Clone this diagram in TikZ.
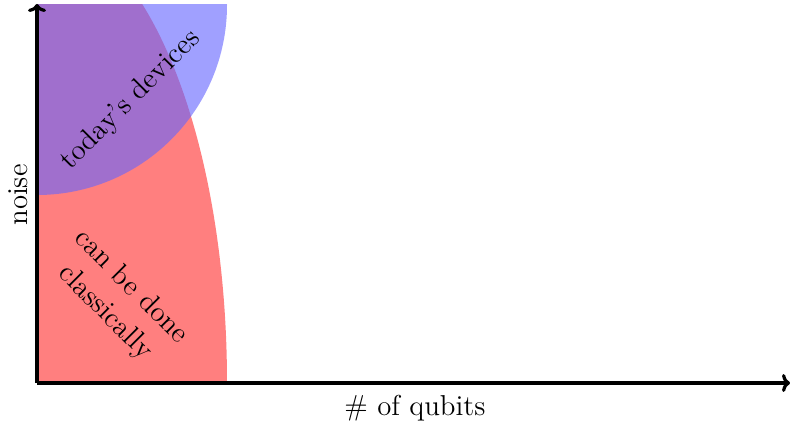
\documentclass[tikz,border=0pt]{standalone}
\usetikzlibrary{arrows.meta}
\begin{document}
\begin{tikzpicture}[x=1pt,y=1pt,
  axis/.style={line width=1.6pt,-{To[length=4pt,width=9pt]}},
  lbl/.style={font=\Large,inner sep=0pt}]
\useasboundingbox (-18.5,-19.5) rectangle (376.5,191.5);
\coordinate (O) at (0,0);
\coordinate (T) at (0,189);
\begin{scope}
  \clip (0,0) rectangle (200,189);
  \fill[red,opacity=0.5] (O) ellipse [x radius=95pt, y radius=227.5pt];
  \fill[blue!60,opacity=0.62] (T) circle [radius=95pt];
\end{scope}
\node[lbl,rotate=45] (td) at (47,141.5) {today's devices};
\node[lbl,rotate=-45,align=center] (cl) at (40.5,41.5) {can be done\\classically};
\draw[axis] (O) -- (0,189.5) coordinate (ytip);
\draw[axis] (O) -- (376.5,0) coordinate (xtip);
\node[lbl,rotate=90] (noise) at (-9.5,94) {noise};
\node[lbl] (qb) at (189,-12.5) {\# of qubits};
\end{tikzpicture}
\end{document}
